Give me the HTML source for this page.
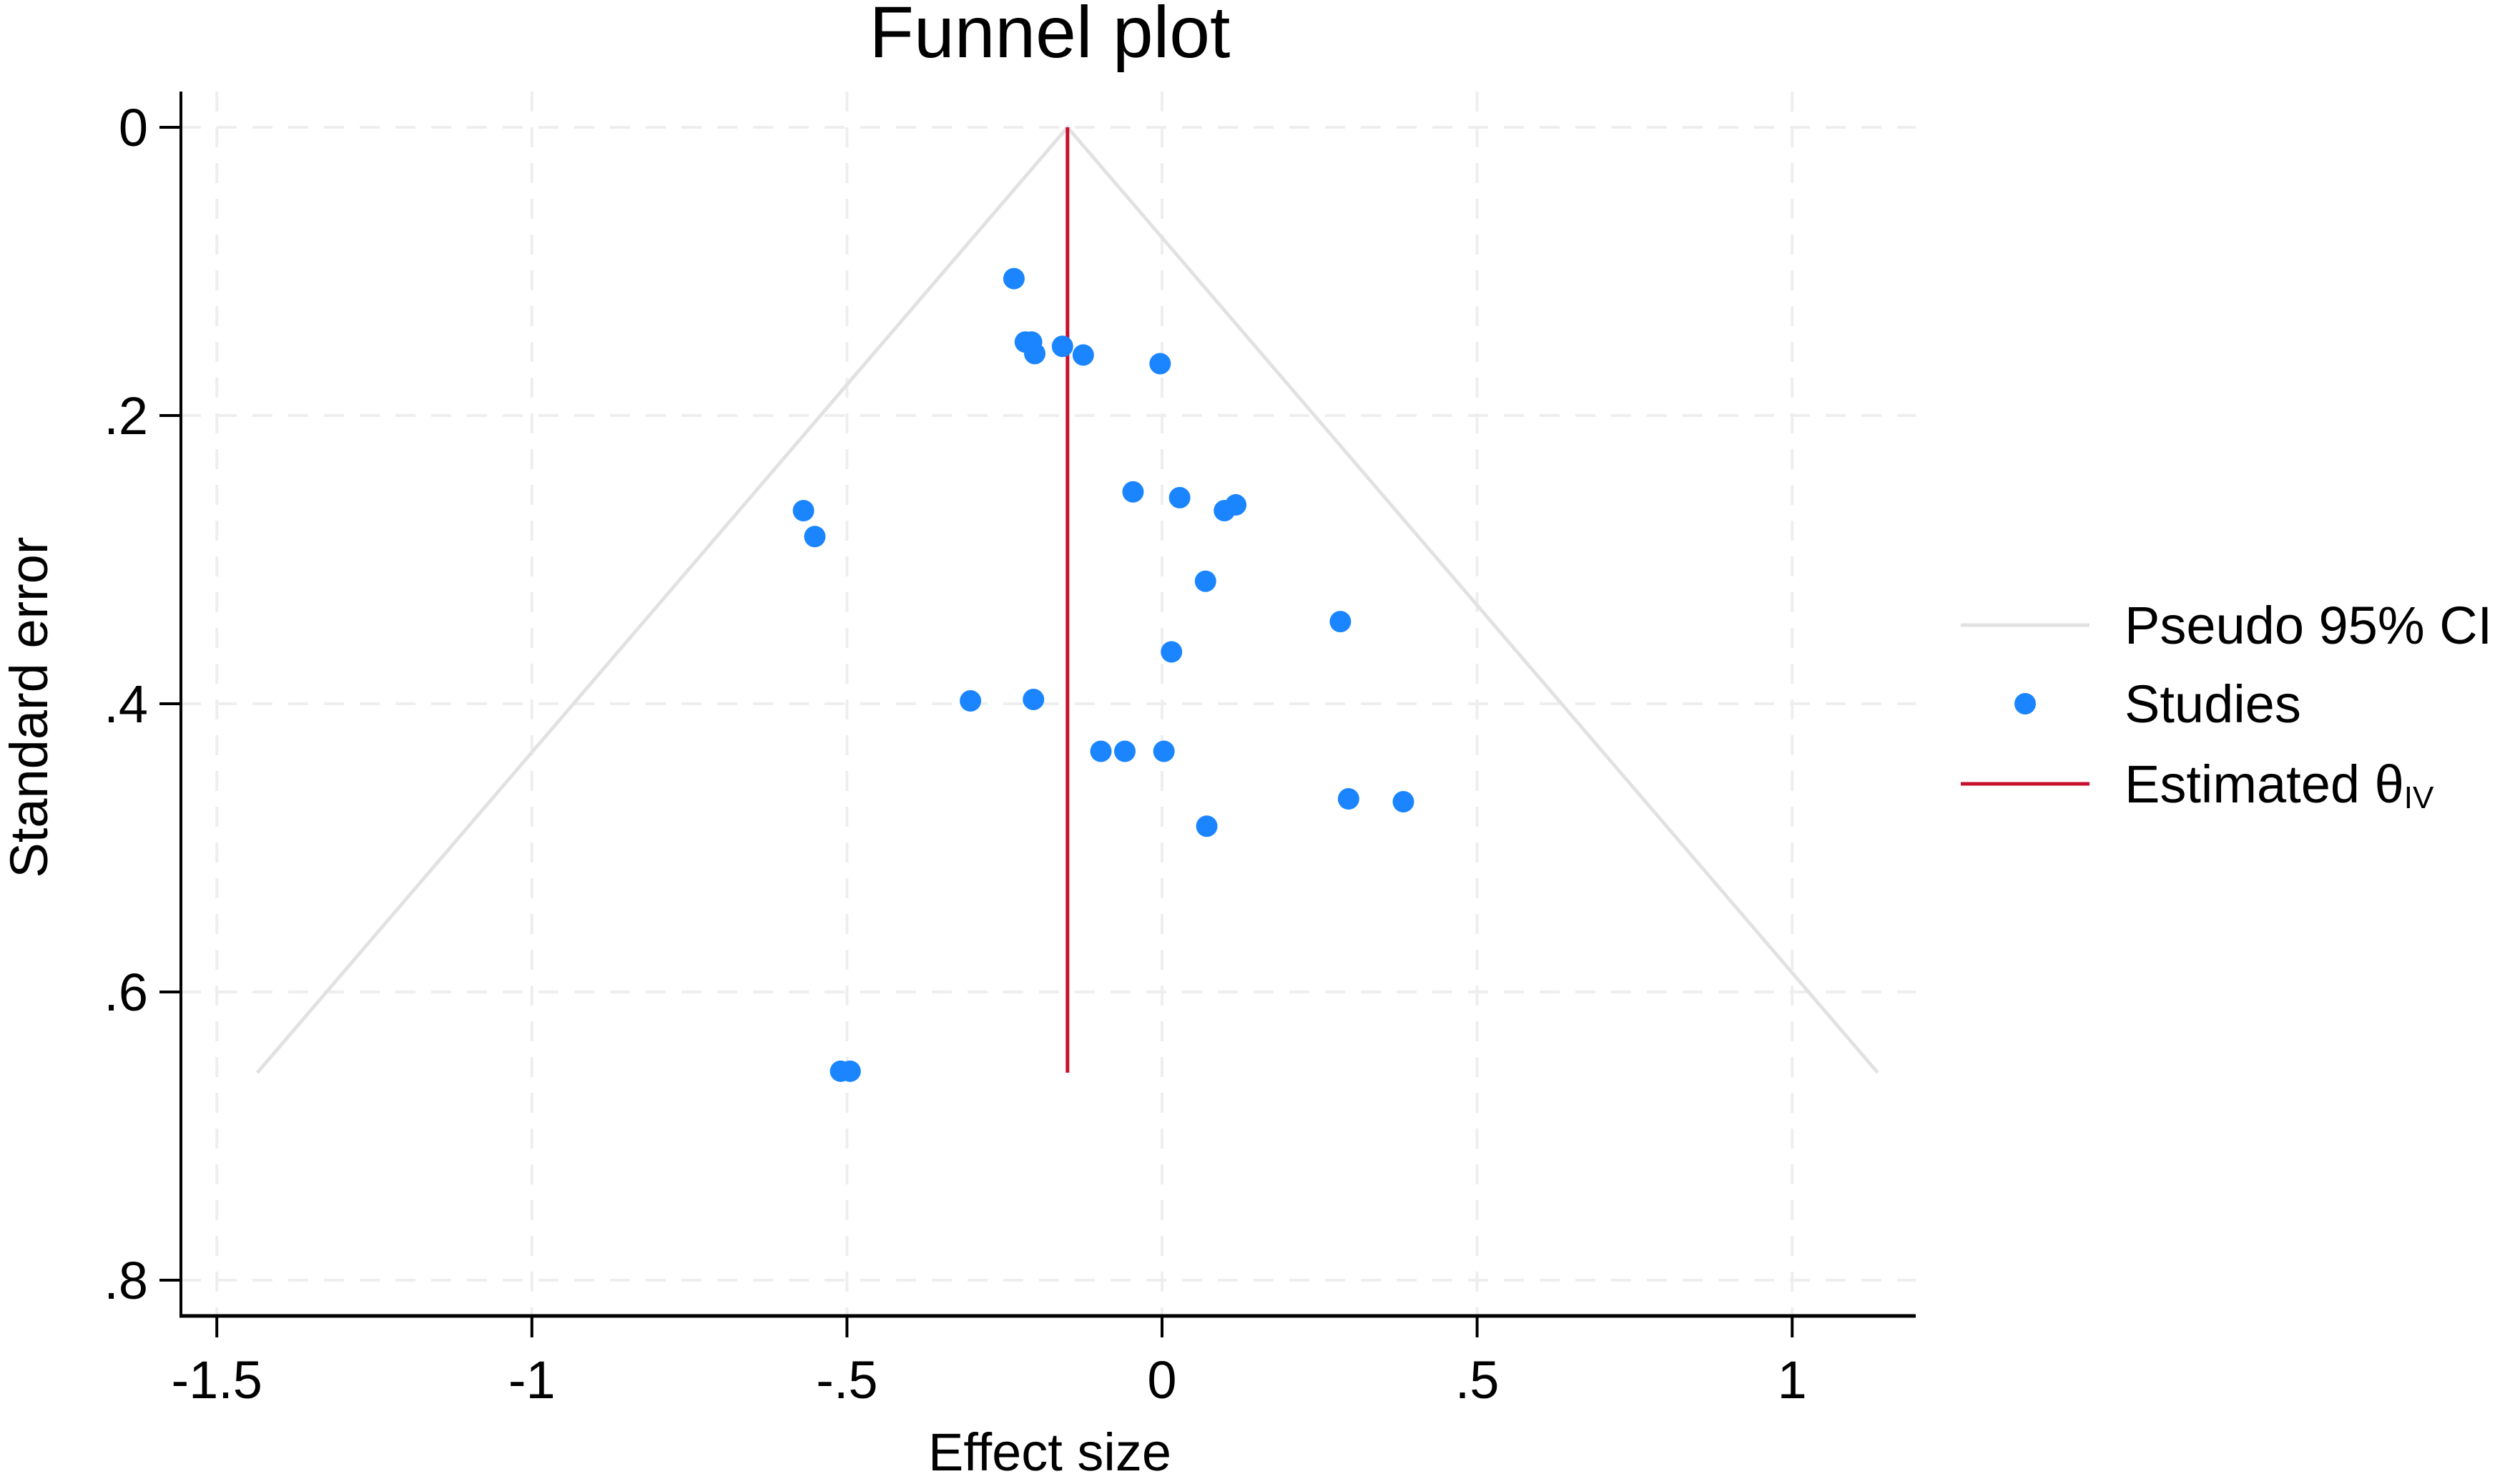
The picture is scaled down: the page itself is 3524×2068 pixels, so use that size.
<!DOCTYPE html>
<html><head><meta charset="utf-8"><style>
html,body{margin:0;padding:0;background:#fff;}
svg{display:block;font-family:"Liberation Sans",Arial,sans-serif;}
</style></head><body>
<svg id="chart" width="3524" height="2068" viewBox="0 0 3524 2068" xmlns="http://www.w3.org/2000/svg">
<rect width="3524" height="2068" fill="#fff"/>
<g id="grid"></g>
<g id="funnel"></g>
<g id="points"></g>
<g id="axes"></g>
<text x="1468" y="80" text-anchor="middle" font-size="102">Funnel plot</text>
<text x="1468" y="2056" text-anchor="middle" font-size="74">Effect size</text>
<text transform="translate(66,989) rotate(-90)" text-anchor="middle" font-size="74">Standard error</text>
<g>
  <line x1="2742" y1="874" x2="2922" y2="874" stroke="#e2e2e2" stroke-width="5"/>
  <text x="2971" y="900" font-size="74">Pseudo 95% CI</text>
  <circle cx="2832" cy="984" r="15" fill="#1a85ff"/>
  <text x="2971" y="1010" font-size="74">Studies</text>
  <line x1="2742" y1="1096" x2="2922" y2="1096" stroke="#c8102e" stroke-width="5"/>
  <text x="2971" y="1122" font-size="74">Estimated θ<tspan font-size="44" dy="8">IV</tspan></text>
</g>
</svg>
<script>
const xTicks=[-1.5,-1,-0.5,0,0.5,1];
const xTickLabels=["-1.5","-1","-.5","0",".5","1"];
const yTicks=[0,0.2,0.4,0.6,0.8];
const yTickLabels=["0",".2",".4",".6",".8"];
const effects=[-0.235,-0.217,-0.207,-0.202,-0.158,-0.125,-0.003,-0.569,-0.551,-0.046,0.028,0.099,0.117,0.069,0.283,0.015,-0.304,-0.204,-0.097,-0.059,0.003,0.296,0.383,0.071,-0.510,-0.495];
const stderrs=[0.105,0.149,0.149,0.157,0.152,0.158,0.164,0.266,0.284,0.253,0.257,0.266,0.262,0.315,0.343,0.364,0.398,0.397,0.433,0.433,0.433,0.466,0.468,0.485,0.655,0.655];
const theta=-0.15;
const seMax=0.656;

const NS="http://www.w3.org/2000/svg";
const X=v=>1625+v*881.2;
const Y=v=>178+v*2015;
const L={left:253,right:2679,top:128,bottom:1840};
function mk(tag,attrs,parent){const e=document.createElementNS(NS,tag);for(const k in attrs)e.setAttribute(k,attrs[k]);parent.appendChild(e);return e;}
const grid=document.getElementById('grid'),axes=document.getElementById('axes'),fun=document.getElementById('funnel'),pts=document.getElementById('points');
xTicks.forEach((t,i)=>{
  const g=mk('line',{x1:X(t),x2:X(t),y1:L.top,y2:L.bottom,stroke:'#eeeeee','stroke-width':4,'stroke-dasharray':'28 22'},grid);
  
  
  const tk=mk('line',{x1:X(t),x2:X(t),y1:L.bottom,y2:L.bottom+30,stroke:'#000','stroke-width':4},axes);
  
  
  const tx=mk('text',{x:X(t),y:1955,'text-anchor':'middle','font-size':74},axes);
  tx.textContent=xTickLabels[i];
  
  
});
yTicks.forEach((t,i)=>{
  const g=mk('line',{x1:L.left,x2:L.right,y1:Y(t),y2:Y(t),stroke:'#eeeeee','stroke-width':4,'stroke-dasharray':'28 22'},grid);
  
  
  const tk=mk('line',{x1:L.left-30,x2:L.left,y1:Y(t),y2:Y(t),stroke:'#000','stroke-width':4},axes);
  
  
  const tx=mk('text',{x:L.left-46,y:Y(t)+26,'text-anchor':'end','font-size':74},axes);
  tx.textContent=yTickLabels[i];
  
  
});
const ya=mk('line',{x1:L.left,x2:L.left,y1:L.top,y2:L.bottom+2,stroke:'#000','stroke-width':4},axes);


const xa=mk('line',{x1:L.left-2,x2:L.right,y1:L.bottom,y2:L.bottom,stroke:'#000','stroke-width':5},axes);


const w=1.96*seMax;
const ci=mk('polyline',{points:`${X(theta-w)},${Y(seMax)} ${X(theta)},${Y(0)} ${X(theta+w)},${Y(seMax)}`,fill:'none',stroke:'#e2e2e2','stroke-width':5},fun);


const est=mk('line',{x1:X(theta),x2:X(theta),y1:Y(0),y2:Y(seMax),stroke:'#c8102e','stroke-width':5},fun);


effects.forEach((e,i)=>{
  const c=mk('circle',{cx:X(e),cy:Y(stderrs[i]),r:15,fill:'#1a85ff'},pts);
  
  
});
</script>
</body></html>
